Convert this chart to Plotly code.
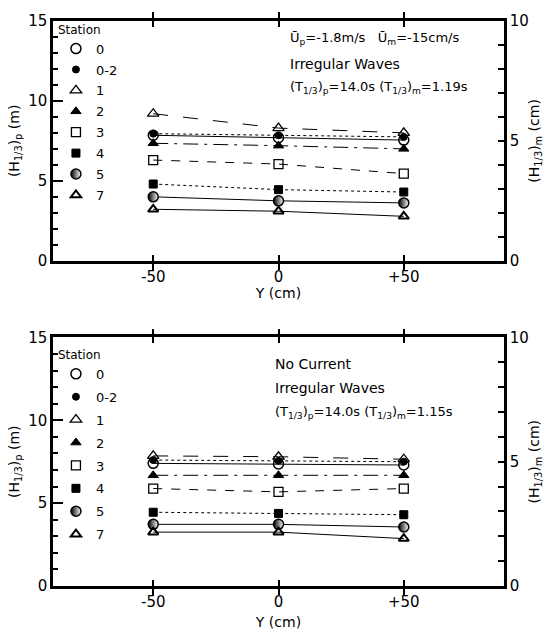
import plotly.graph_objects as go

# ---------------- data ----------------
y_pos = [-50, 0, 50]
x_ticktext = ["-50", "0", "+50"]
stations = ["0", "0-2", "1", "2", "3", "4", "5", "7"]

# top panel: Up = -1.8 m/s (current)
top_st0 = [7.85, 7.7, 7.55]
top_st02 = [7.95, 7.85, 7.75]
top_st1 = [9.2, 8.3, 8.0]
top_st2 = [7.35, 7.2, 7.0]
top_st3 = [6.3, 6.05, 5.45]
top_st4 = [4.8, 4.45, 4.3]
top_st5 = [4.0, 3.75, 3.62]
top_st7 = [3.22, 3.1, 2.78]

# bottom panel: no current
bot_st0 = [7.4, 7.36, 7.3]
bot_st02 = [7.6, 7.55, 7.5]
bot_st1 = [7.85, 7.8, 7.65]
bot_st2 = [6.68, 6.68, 6.68]
bot_st3 = [5.88, 5.68, 5.88]
bot_st4 = [4.45, 4.38, 4.3]
bot_st5 = [3.72, 3.72, 3.56]
bot_st7 = [3.25, 3.25, 2.86]

top_values = [top_st0, top_st02, top_st1, top_st2, top_st3, top_st4, top_st5, top_st7]
bot_values = [bot_st0, bot_st02, bot_st1, bot_st2, bot_st3, bot_st4, bot_st5, bot_st7]

# ---------------- styles ----------------
dashes = ["solid", "dot", "longdash", "longdashdot", "dash", "dot", "solid", "solid"]
markers = [
    dict(symbol="circle-open", size=10, color="black", line=dict(width=1.5, color="black")),
    dict(symbol="circle", size=7, color="black", line=dict(width=1, color="black")),
    dict(symbol="triangle-up-open", size=10, color="black", line=dict(width=1.3, color="black")),
    dict(symbol="triangle-up", size=9, color="black", line=dict(width=1, color="black")),
    dict(symbol="square-open", size=9, color="black", line=dict(width=1.3, color="black")),
    dict(symbol="square", size=8, color="black", line=dict(width=1, color="black")),
    dict(symbol="circle", size=10, color="black",
         gradient=dict(type="horizontal", color="white"), line=dict(width=1.5, color="black")),
    dict(symbol="triangle-up-open", size=9, color="black", line=dict(width=2, color="black")),
]

FONT = "DejaVu Sans"
W, H = 553, 641
ML, MR, MT, MB = 47, 46, 15, 51
PW, PH = W - ML - MR, H - MT - MB


def px(x):
    return (x - ML) / PW


def py(y):
    return (H - MB - y) / PH


fig = go.Figure()

panels = [
    (top_values, "x", "y", "y2", "legend"),
    (bot_values, "x2", "y3", "y4", "legend2"),
]
for values, xa, ya, ya_r, leg in panels:
    for name, vals, dash, mk in zip(stations, values, dashes, markers):
        fig.add_trace(go.Scatter(
            x=y_pos, y=vals, mode="lines+markers", xaxis=xa, yaxis=ya,
            line=dict(color="black", width=1, dash=dash),
            marker=mk, showlegend=False, hoverinfo="skip"))
        # legend entry (marker only)
        fig.add_trace(go.Scatter(
            x=[None], y=[None], mode="markers", xaxis=xa, yaxis=ya,
            marker=mk, name=name, legend=leg, legendgroup=leg + name,
            showlegend=True))
    # dummy trace to bind right axis
    fig.add_trace(go.Scatter(x=[None], y=[None], xaxis=xa, yaxis=ya_r,
                             showlegend=False, hoverinfo="skip"))

tickfont = dict(family=FONT, size=15, color="black")
titlefont = dict(family=FONT, size=14, color="black")

xcommon = dict(range=[-90, 90], tickvals=y_pos, ticktext=x_ticktext,
               ticks="inside", ticklen=6, tickwidth=1.5, tickcolor="black",
               showline=True, linewidth=2.5, linecolor="black", mirror="allticks",
               showgrid=False, zeroline=False, tickfont=tickfont)
ylcommon = dict(range=[0, 15], tickvals=[0, 5, 10, 15], ticks="inside", ticklen=10,
                tickwidth=2, tickcolor="black",
                minor=dict(dtick=1, ticks="inside", ticklen=5, tickwidth=1.5, tickcolor="black"),
                showline=True, linewidth=2.5, linecolor="black", mirror=False,
                showgrid=False, zeroline=False, tickfont=tickfont,
                title=dict(text="(H<sub>1/3</sub>)<sub>p</sub> (m)", font=titlefont, standoff=6))
yrcommon = dict(range=[0, 10], side="right",
                tickvals=list(range(0, 11)),
                ticktext=["0", "", "", "", "", "5", "", "", "", "", "10"],
                ticks="inside", ticklen=6, tickwidth=1.5, tickcolor="black",
                showline=True, linewidth=2.5, linecolor="black",
                showgrid=False, zeroline=False, tickfont=tickfont,
                title=dict(text="(H<sub>1/3</sub>)<sub>m</sub> (cm)", font=titlefont, standoff=2))

top_dom = [py(259), 1.0]
bot_dom = [0.0, py(337)]

fig.update_layout(
    width=W, height=H, margin=dict(l=ML, r=MR, t=MT, b=MB),
    paper_bgcolor="white", plot_bgcolor="white",
    font=dict(family=FONT, color="black"),
    xaxis=dict(**xcommon, domain=[0, 1], anchor="y",
               title=dict(text="Y (cm)", font=titlefont, standoff=0)),
    yaxis=dict(**ylcommon, domain=top_dom, anchor="x"),
    yaxis2=dict(**yrcommon, overlaying="y", anchor="x"),
    xaxis2=dict(**xcommon, domain=[0, 1], anchor="y3",
                title=dict(text="Y (cm)", font=titlefont, standoff=8)),
    yaxis3=dict(**ylcommon, domain=bot_dom, anchor="x2"),
    yaxis4=dict(**yrcommon, overlaying="y3", anchor="x2"),
    legend=dict(x=px(50), y=py(12), xanchor="left", yanchor="top",
                title=dict(text="Station", font=dict(family=FONT, size=12)),
                font=dict(family=FONT, size=13), bgcolor="rgba(0,0,0,0)",
                tracegroupgap=1, itemwidth=30),
    legend2=dict(x=px(50), y=py(343), xanchor="left", yanchor="top",
                 title=dict(text="Station", font=dict(family=FONT, size=12)),
                 font=dict(family=FONT, size=13), bgcolor="rgba(0,0,0,0)",
                 tracegroupgap=3, itemwidth=30),
    showlegend=True,
)

note_font = dict(family=FONT, size=13, color="black")
big_font = dict(family=FONT, size=14, color="black")
top_notes = [
    ("Ū<sub>p</sub>=-1.8m/s   Ū<sub>m</sub>=-15cm/s", 33, note_font),
    ("Irregular Waves", 59, big_font),
    ("(T<sub>1/3</sub>)<sub>p</sub>=14.0s (T<sub>1/3</sub>)<sub>m</sub>=1.19s", 83, note_font),
]
bot_notes = [
    ("No Current", 364, big_font),
    ("Irregular Waves", 388, big_font),
    ("(T<sub>1/3</sub>)<sub>p</sub>=14.0s (T<sub>1/3</sub>)<sub>m</sub>=1.15s", 413, note_font),
]
for text, yy, f in top_notes:
    fig.add_annotation(text=text, x=px(287), y=py(yy), xref="paper", yref="paper",
                       xanchor="left", yanchor="middle", showarrow=False, font=f)
for text, yy, f in bot_notes:
    fig.add_annotation(text=text, x=px(271), y=py(yy), xref="paper", yref="paper",
                       xanchor="left", yanchor="middle", showarrow=False, font=f)

fig.write_html("out.html")
